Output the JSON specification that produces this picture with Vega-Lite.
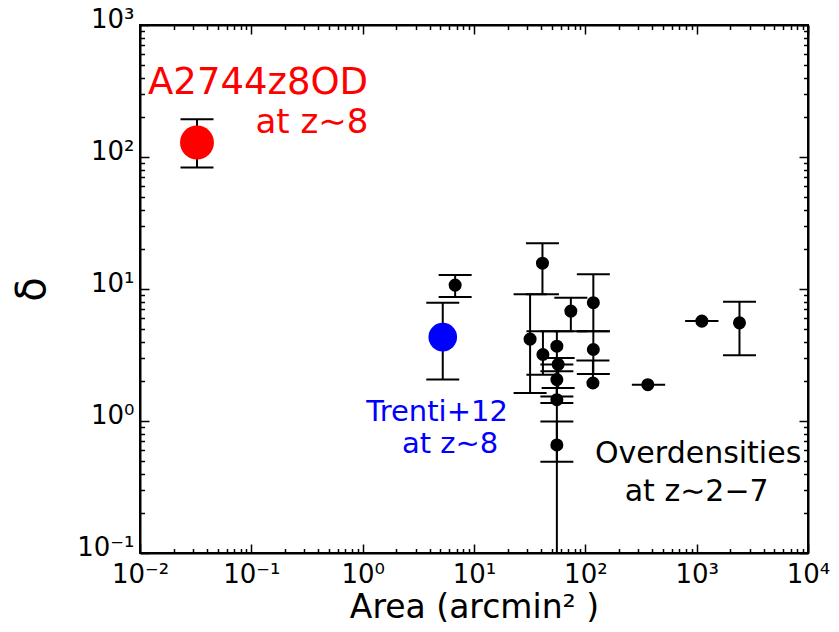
{
  "$schema": "https://vega.github.io/schema/vega-lite/v6.json",
  "width": 668,
  "height": 528,
  "autosize": {"type": "none"},
  "padding": {"left": 140, "top": 25, "right": 31, "bottom": 79},
  "background": "white",
  "config": {
    "view": {"stroke": "black", "strokeWidth": 2},
    "font": "DejaVu Sans",
    "axis": {
      "domainColor": "black", "domainWidth": 2, "tickColor": "black", "tickWidth": 1.5,
      "labelFont": "DejaVu Sans", "labelFontSize": 26, "labelColor": "black",
      "titleFont": "DejaVu Sans", "titleFontSize": 33, "titleFontWeight": "normal", "titleColor": "black",
      "grid": false, "labelOverlap": false, "labelFlush": false, "labelBound": false
    }
  },
  "datasets": {
    "pts": [
      {"area": 0.0325, "delta": 128.8, "lo": 83.2, "hi": 192.8, "grp": "red"},
      {"area": 5.24, "delta": 4.32, "lo": 2.06, "hi": 7.87, "grp": "blue"},
      {"area": 6.77, "delta": 10.7, "lo": 8.69, "hi": 12.78, "grp": "black"},
      {"area": 41.2, "delta": 15.68, "lo": 9.11, "hi": 22.26, "grp": "black"},
      {"area": 31.9, "delta": 4.17, "lo": 1.627, "hi": 9.11, "grp": "black"},
      {"area": 74.1, "delta": 6.8, "lo": 4.79, "hi": 8.59, "grp": "black"},
      {"area": 118, "delta": 7.87, "lo": 4.79, "hi": 12.94, "grp": "black"},
      {"area": 118, "delta": 3.48, "lo": 2.27, "hi": 4.79, "grp": "black"},
      {"area": 117, "delta": 1.94, "lo": 1.94, "hi": 2.87, "grp": "black"},
      {"area": 55.5, "delta": 3.69, "lo": 1.366, "hi": 4.79, "grp": "black"},
      {"area": 41.6, "delta": 3.19, "lo": 2.245, "hi": 4.79, "grp": "black"},
      {"area": 57, "delta": 2.69, "lo": 1.776, "hi": 3.0, "grp": "black"},
      {"area": 55.5, "delta": 2.06, "lo": 1.536, "hi": 2.675, "grp": "black"},
      {"area": 55.5, "delta": 1.45, "lo": 0.05, "hi": 2.38, "grp": "black"},
      {"area": 55.5, "delta": 0.659, "lo": 0.492, "hi": 0.991, "grp": "black"},
      {"area": 364, "delta": 1.885, "xlo": 261.7, "xhi": 521, "grp": "black"},
      {"area": 1113, "delta": 5.71, "xlo": 788, "xhi": 1570, "grp": "black"},
      {"area": 2424, "delta": 5.54, "lo": 3.15, "hi": 8.01, "grp": "black"}
    ],
    "notes": [
      {"nx": 0.115, "ny": 362, "label": "A2744z8OD", "grp": "red", "role": "big"},
      {"nx": 0.35, "ny": 180, "label": "at z∼8", "grp": "red", "role": "mid"},
      {"nx": 4.66, "ny": 1.18, "label": "Trenti+12", "grp": "blue", "role": "small"},
      {"nx": 6.1, "ny": 0.675, "label": "at z∼8", "grp": "blue", "role": "small"},
      {"nx": 1031, "ny": 0.566, "label": "Overdensities", "grp": "black", "role": "note"},
      {"nx": 1000, "ny": 0.291, "label": "at z∼2−7", "grp": "black", "role": "note"}
    ]
  },
  "layer": [
    {
      "data": {"name": "pts"},
      "transform": [{"filter": "isValid(datum.lo)"}],
      "mark": {"type": "rule", "strokeWidth": 2, "color": "black", "clip": true},
      "encoding": {
        "x": {
          "field": "area", "type": "quantitative",
          "scale": {"type": "log", "domain": [0.01, 10000], "nice": false},
          "axis": {
            "orient": "bottom", "title": "Area (arcmin² )", "titlePadding": 0, "labelPadding": 17,
            "values": [0.01,0.02,0.03,0.04,0.05,0.06,0.07,0.08,0.09,0.1,0.2,0.3,0.4,0.5,0.6,0.7,0.8,0.9,1,2,3,4,5,6,7,8,9,10,20,30,40,50,60,70,80,90,100,200,300,400,500,600,700,800,900,1000,2000,3000,4000,5000,6000,7000,8000,9000,10000],
            "tickSize": {"condition": {"test": "abs(log(datum.value)/LN10 - round(log(datum.value)/LN10)) < 0.001", "value": -9}, "value": -4.5},
            "labelExpr": "datum.value==0.01?'10⁻²':datum.value==0.1?'10⁻¹':datum.value==1?'10⁰':datum.value==10?'10¹':datum.value==100?'10²':datum.value==1000?'10³':datum.value==10000?'10⁴':''"
          }
        },
        "y": {
          "field": "lo", "type": "quantitative",
          "scale": {"type": "log", "domain": [0.1, 1000], "nice": false},
          "axis": {
            "orient": "left", "title": "δ", "titleFontSize": 40, "titlePadding": 24, "labelPadding": 15, "labelOffset": -6,
            "values": [0.1,0.2,0.3,0.4,0.5,0.6,0.7,0.8,0.9,1,2,3,4,5,6,7,8,9,10,20,30,40,50,60,70,80,90,100,200,300,400,500,600,700,800,900,1000],
            "tickSize": {"condition": {"test": "abs(log(datum.value)/LN10 - round(log(datum.value)/LN10)) < 0.001", "value": -9}, "value": -4.5},
            "labelExpr": "datum.value==0.1?'10⁻¹':datum.value==1?'10⁰':datum.value==10?'10¹':datum.value==100?'10²':datum.value==1000?'10³':''"
          }
        },
        "y2": {"field": "hi"}
      }
    },
    {
      "data": {"name": "pts"},
      "transform": [{"filter": "isValid(datum.hi)"}],
      "mark": {"type": "tick", "orient": "horizontal", "size": 33, "thickness": 2, "color": "black", "opacity": 1, "clip": true},
      "encoding": {
        "x": {
          "field": "area", "type": "quantitative",
          "axis": {
            "orient": "top", "title": null, "labels": false,
            "values": [0.01,0.02,0.03,0.04,0.05,0.06,0.07,0.08,0.09,0.1,0.2,0.3,0.4,0.5,0.6,0.7,0.8,0.9,1,2,3,4,5,6,7,8,9,10,20,30,40,50,60,70,80,90,100,200,300,400,500,600,700,800,900,1000,2000,3000,4000,5000,6000,7000,8000,9000,10000],
            "tickSize": {"condition": {"test": "abs(log(datum.value)/LN10 - round(log(datum.value)/LN10)) < 0.001", "value": -9}, "value": -4.5}
          }
        },
        "y": {
          "field": "hi", "type": "quantitative",
          "axis": {
            "orient": "right", "title": null, "labels": false,
            "values": [0.1,0.2,0.3,0.4,0.5,0.6,0.7,0.8,0.9,1,2,3,4,5,6,7,8,9,10,20,30,40,50,60,70,80,90,100,200,300,400,500,600,700,800,900,1000],
            "tickSize": {"condition": {"test": "abs(log(datum.value)/LN10 - round(log(datum.value)/LN10)) < 0.001", "value": -9}, "value": -4.5}
          }
        }
      }
    },
    {
      "data": {"name": "pts"},
      "transform": [{"filter": "isValid(datum.lo) && datum.lo < datum.delta"}],
      "mark": {"type": "tick", "orient": "horizontal", "size": 33, "thickness": 2, "color": "black", "opacity": 1, "clip": true},
      "encoding": {
        "x": {"field": "area", "type": "quantitative", "axis": null},
        "y": {"field": "lo", "type": "quantitative", "axis": null}
      }
    },
    {
      "data": {"name": "pts"},
      "transform": [{"filter": "isValid(datum.xlo)"}],
      "mark": {"type": "rule", "strokeWidth": 2, "color": "black"},
      "encoding": {
        "x": {"field": "xlo", "type": "quantitative", "axis": null},
        "x2": {"field": "xhi"},
        "y": {"field": "delta", "type": "quantitative", "axis": null}
      }
    },
    {
      "data": {"name": "pts"},
      "mark": {"type": "circle", "opacity": 1},
      "encoding": {
        "x": {"field": "area", "type": "quantitative", "axis": null},
        "y": {"field": "delta", "type": "quantitative", "axis": null},
        "color": {"field": "grp", "type": "nominal", "scale": {"domain": ["red", "blue", "black"], "range": ["#ff0000", "#0000ff", "#000000"]}, "legend": null},
        "size": {"condition": [{"test": "datum.grp == 'red'", "value": 1150}, {"test": "datum.grp == 'blue'", "value": 820}], "value": 170}
      }
    },
    {
      "data": {"name": "notes"},
      "transform": [{"filter": "datum.role == 'big'"}],
      "mark": {"type": "text", "fontSize": 37, "align": "center", "baseline": "middle", "font": "DejaVu Sans"},
      "encoding": {
        "x": {"field": "nx", "type": "quantitative", "axis": null},
        "y": {"field": "ny", "type": "quantitative", "axis": null},
        "text": {"field": "label"},
        "color": {"field": "grp", "type": "nominal", "scale": {"domain": ["red", "blue", "black"], "range": ["#ff0000", "#0000ff", "#000000"]}, "legend": null}
      }
    },
    {
      "data": {"name": "notes"},
      "transform": [{"filter": "datum.role == 'mid'"}],
      "mark": {"type": "text", "fontSize": 34, "align": "center", "baseline": "middle", "font": "DejaVu Sans"},
      "encoding": {
        "x": {"field": "nx", "type": "quantitative", "axis": null},
        "y": {"field": "ny", "type": "quantitative", "axis": null},
        "text": {"field": "label"},
        "color": {"field": "grp", "type": "nominal", "scale": {"domain": ["red", "blue", "black"], "range": ["#ff0000", "#0000ff", "#000000"]}, "legend": null}
      }
    },
    {
      "data": {"name": "notes"},
      "transform": [{"filter": "datum.role == 'small'"}],
      "mark": {"type": "text", "fontSize": 29, "align": "center", "baseline": "middle", "font": "DejaVu Sans"},
      "encoding": {
        "x": {"field": "nx", "type": "quantitative", "axis": null},
        "y": {"field": "ny", "type": "quantitative", "axis": null},
        "text": {"field": "label"},
        "color": {"field": "grp", "type": "nominal", "scale": {"domain": ["red", "blue", "black"], "range": ["#ff0000", "#0000ff", "#000000"]}, "legend": null}
      }
    },
    {
      "data": {"name": "notes"},
      "transform": [{"filter": "datum.role == 'note'"}],
      "mark": {"type": "text", "fontSize": 30, "align": "center", "baseline": "middle", "font": "DejaVu Sans"},
      "encoding": {
        "x": {"field": "nx", "type": "quantitative", "axis": null},
        "y": {"field": "ny", "type": "quantitative", "axis": null},
        "text": {"field": "label"},
        "color": {"field": "grp", "type": "nominal", "scale": {"domain": ["red", "blue", "black"], "range": ["#ff0000", "#0000ff", "#000000"]}, "legend": null}
      }
    }
  ],
  "resolve": {"axis": {"x": "independent", "y": "independent"}}
}
